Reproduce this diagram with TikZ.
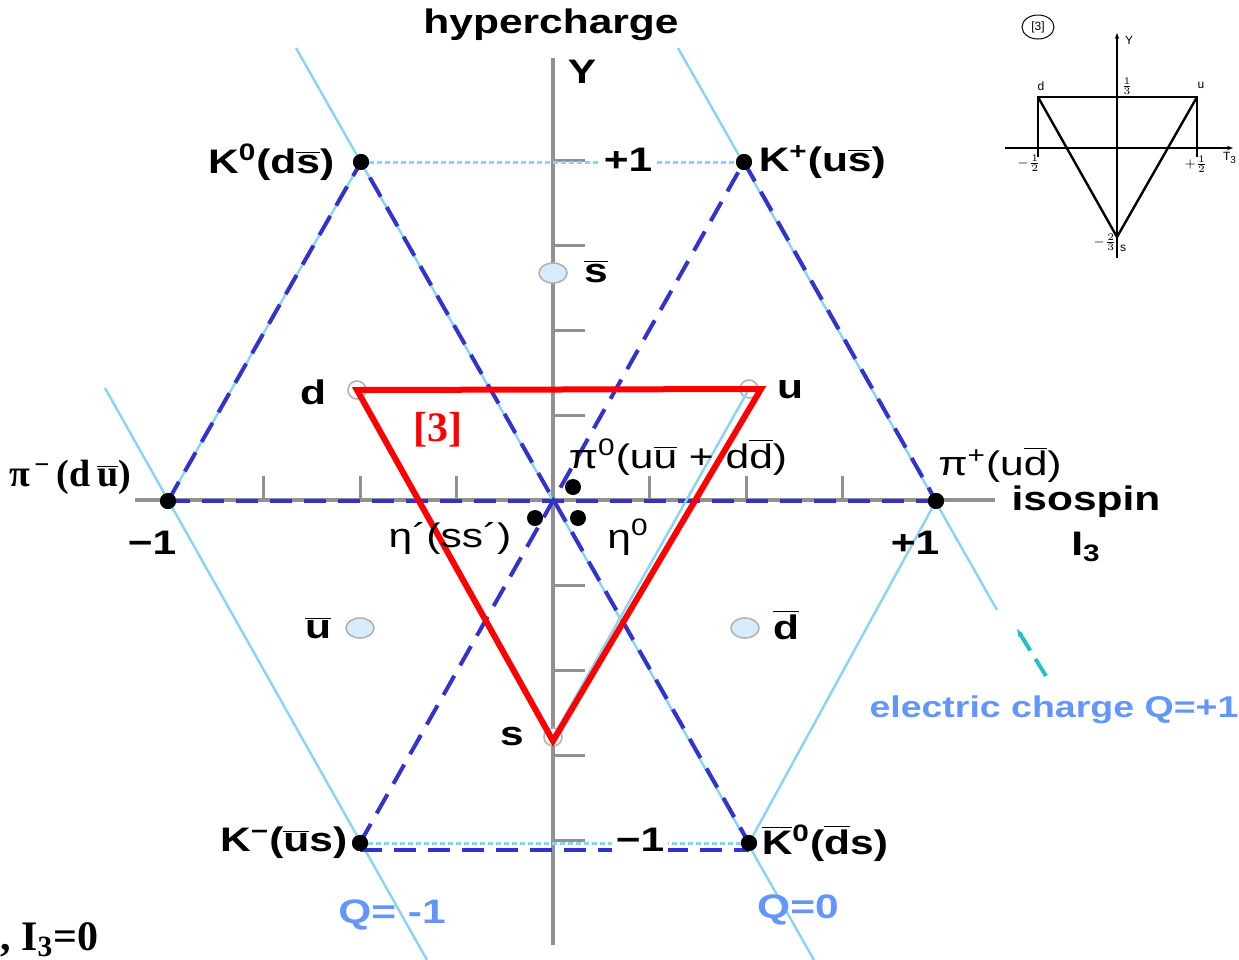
\documentclass[tikz,border=0pt]{standalone}
\usepackage{fontspec}
\setmainfont{Liberation Serif}
\setsansfont{Liberation Sans}[FakeStretch=1.25]
\newfontfamily\insfont{Liberation Sans}
\usetikzlibrary{arrows.meta,shapes.geometric,positioning}

\definecolor{qline}{RGB}{135,212,245}
\definecolor{octet}{RGB}{51,51,204}
\definecolor{axisgray}{RGB}{145,145,145}
\definecolor{qlabel}{RGB}{100,150,250}
\definecolor{qfill}{RGB}{215,236,250}
\definecolor{arrteal}{RGB}{40,190,200}

\newcommand\abar[1]{\ensuremath{\overline{\mbox{#1}}}}

\begin{document}
\begin{tikzpicture}[x=0.5pt,y=-0.5pt,
  font=\sffamily\bfseries\fontsize{17}{19}\selectfont,
  meson/.style={circle,fill=black,inner sep=0pt,minimum size=8pt},
  qk/.style={circle,draw=black!30,line width=0.8pt,fill=white,inner sep=0pt,minimum size=9pt},
  aqk/.style={ellipse,draw=black!30,line width=0.8pt,fill=qfill,inner sep=0pt,minimum width=14pt,minimum height=10pt},
  axisln/.style={draw=axisgray,line width=2pt},
  tick/.style={draw=axisgray,line width=1.5pt},
  qln/.style={draw=qline,line width=1.2pt},
  qdot/.style={draw=qline,line width=1.5pt,dash pattern=on 2.5pt off 1.5pt},
  octet/.style={draw=octet,line width=2pt,dash pattern=on 11pt off 6pt},
  triplet/.style={draw=red,line width=3pt},
  lbl/.style={inner sep=0pt},
  qlbl/.style={inner sep=0pt,text=qlabel},
  ins/.style={font=\insfont\fontsize{6}{7}\selectfont,inner sep=0pt},
  >={Stealth[length=4pt]}
]
\useasboundingbox (0,0) rectangle (1239,960);

% axes
\coordinate (xl) at (135,500);
\coordinate (xr) at (995,500);
\coordinate (yt) at (553,58);
\coordinate (yb) at (553,945);
\draw[axisln] (xl) -- (xr);
\draw[axisln] (yt) -- (yb);
\foreach \k in {-3,-2,-1,1,2,3}
  \draw[tick] ({553+96.5*\k},500) -- ++(0,-24);
\foreach \k in {-4,-3,-2,-1,1,2,3,4}
  \draw[tick] (553,{500+85*\k}) -- ++(32,0);

% mesons
\node[meson] (K0) at (361,162) {};
\node[meson] (Kp) at (744,162) {};
\node[meson] (pim) at (168,501) {};
\node[meson] (pip) at (936,501) {};
\node[meson] (Km) at (360,843) {};
\node[meson] (K0b) at (749,843) {};

% charge lines
\coordinate (qma) at (105,388);
\coordinate (qmb) at (427,960);
\coordinate (qza) at (296,48);
\coordinate (qzb) at (814,960);
\coordinate (qpa) at (678,48);
\coordinate (qpb) at (997,610);
\draw[qln] (qma) -- (qmb);
\draw[qln] (qza) -- (qzb);
\draw[qln] (qpa) -- (qpb);
\draw[qln] (pim.center) -- (K0.center);
\draw[qln] (K0b.center) -- (pip.center);
\draw[qdot] (K0) -- (Kp);
\draw[qdot] (Km) -- (K0b);

% quarks
\node[qk] (d) at (357,390) {};
\node[qk] (u) at (749,389) {};
\node[qk] (s) at (553,737) {};
\node[aqk] (sb) at (553,273) {};
\node[aqk] (ub) at (360,628) {};
\node[aqk] (db) at (745,628) {};

% octet
\draw[octet] (pim.center) -- (K0.center) -- (K0b.center);
\draw[octet] (Km.center) -- (Kp.center) -- (pip.center);
\draw[octet] (pim.center) -- (pip.center);
\draw[octet] ([yshift=-3.5pt]Km.center) -- ([yshift=-3.5pt]K0b.center);

% triplet
\draw[qln,shift={(5,3)}] (d.center) -- (u.center) -- (s.center) -- cycle;
\draw[triplet] (d.center) -- ([xshift=6pt]u.center) -- ([yshift=-2pt]s.center) -- cycle;

\node[meson] (pi0) at (573,487) {};
\node[meson] (etap) at (535,518) {};
\node[meson] (eta0) at (578,518) {};
\foreach \m in {K0,Kp,pim,pip,Km,K0b}
  \node[meson] at (\m) {};

% labels
\node[lbl] at (551,25) {hypercharge};
\node[lbl] at (582,72) {Y};
\node[lbl,left=9pt of K0] {K\textsuperscript{0}(d\abar{s})};
\node[lbl,right=3pt of Kp] {K\textsuperscript{+}(u\abar{s})};
\node[lbl,fill=white,inner sep=2pt] at (628,160) {+1};
\node[lbl] at (596,272) {\abar{s}};
\node[lbl] at (313,392) {d};
\node[lbl] at (790,390) {u};
\node[lbl,text=red,font=\rmfamily\bfseries\fontsize{21}{24}\selectfont] at (438,430) {[3]};
\node[lbl,font=\rmfamily\bfseries\fontsize{19}{22}\selectfont] at (70,477) {π\textsuperscript{\,−}\,(d\,\abar{u})};
\node[lbl,font=\sffamily\fontsize{17}{19}\selectfont] at (678,457) {π\textsuperscript{0}(u\abar{u} + d\abar{d})};
\node[lbl,font=\sffamily\fontsize{17}{19}\selectfont] at (1000,465) {π\textsuperscript{+}(u\abar{d})};
\node[lbl] at (1086,502) {isospin};
\node[lbl] at (1086,547) {I\textsubscript{3}};
\node[lbl] at (152,543) {−1};
\node[lbl] at (915,543) {+1};
\node[lbl,font=\sffamily\fontsize{17}{19}\selectfont] at (450,538) {η´(ss´)};
\node[lbl,font=\sffamily\fontsize{17}{19}\selectfont] at (628,537) {η\textsuperscript{0}};
\node[lbl] at (318,628) {\abar{u}};
\node[lbl] at (786,625) {\abar{d}};
\node[lbl] at (512,737) {s};
\node[lbl,left=2pt of Km] {K\textsuperscript{−}(\abar{u}s)};
\node[lbl,fill=white,inner sep=2pt] at (640,840) {−1};
\node[lbl,right=2pt of K0b] {\abar{K}\textsuperscript{0}(\abar{d}s)};
\node[qlbl] at (392,915) {Q= -1};
\node[qlbl] at (798,910) {Q=0};
\node[qlbl,font=\sffamily\bfseries\fontsize{15}{17}\selectfont] (ecq) at (1054,710) {electric charge Q=+1};
\node[lbl,anchor=base west,font=\rmfamily\bfseries\fontsize{21}{24}\selectfont] at (0,950) {, I\textsubscript{3}=0};

% charge arrow
\coordinate (arrA) at (1046,676);
\coordinate (arrB) at (1017,629);
\draw[arrteal,line width=2pt,dash pattern=on 10pt off 5pt,->] (arrA) -- (arrB);

% inset
\coordinate (iyb) at (1117,258);
\coordinate (iyt) at (1117,33);
\coordinate (ixl) at (1005,148);
\coordinate (ixr) at (1233,148);
\coordinate (id) at (1038,97);
\coordinate (iu) at (1197,97);
\coordinate (is) at (1117,237);
\coordinate (idb) at (1038,157);
\coordinate (iub) at (1197,157);
\draw[line width=0.6pt,-{Stealth[length=3pt]}] (iyb) -- (iyt);
\draw[line width=0.6pt,-{Stealth[length=3pt]}] (ixl) -- (ixr);
\draw[line width=1.2pt] (idb) -- (id) -- (iu) -- (iub);
\draw[line width=1.2pt] (id) -- (is) -- (iu);
\node[ins,draw,ellipse,minimum width=16pt,minimum height=12pt,line width=0.5pt] (c3) at (1038,27) {[3]};
\node[ins] at (1129,40) {Y};
\node[ins] at (1230,158) {T\textsubscript{3}};
\node[ins] at (1041,86) {d};
\node[ins] at (1201,85) {u};
\node[ins] at (1123,248) {s};
\node[ins] at (1127,86) {$\frac{1}{3}$};
\node[ins] at (1029,163) {$-\frac{1}{2}$};
\node[ins] at (1196,164) {$+\frac{1}{2}$};
\node[ins] at (1105,242) {$-\frac{2}{3}$};
\end{tikzpicture}
\end{document}
